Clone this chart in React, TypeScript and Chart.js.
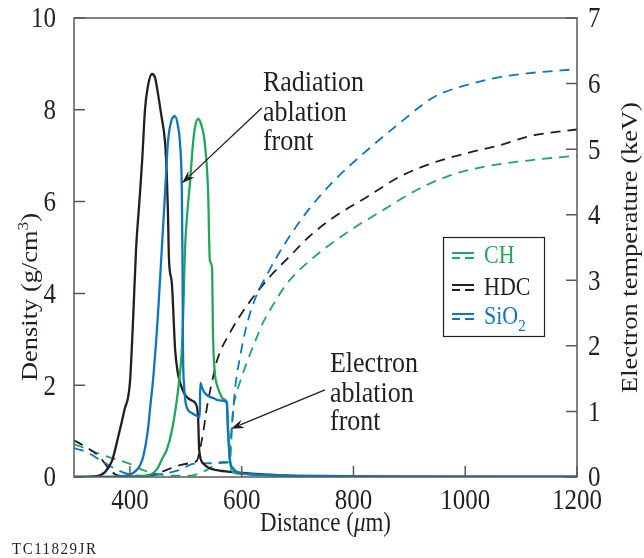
import React, { useEffect, useRef } from 'react';
import { Chart, registerables } from 'chart.js';
Chart.register(...registerables);

// ---------- data ----------
const xTicks = [400, 600, 800, 1000, 1200];
const densityTicks = [0, 2, 4, 6, 8, 10];
const tempTicks = [0, 1, 2, 3, 4, 5, 6, 7];

// density (g/cm^3) vs distance (um)
const hdcDensity: [number, number][] = [
  [300, 0], [340, 0.02], [355, 0.1], [368, 0.35], [379, 0.87], [390, 1.45], [400, 2.05],
  [406, 3.5], [411, 4.95], [417, 6.0], [422, 6.9], [427, 8.0], [432, 8.5], [439.5, 8.78],
  [445, 8.7], [450, 8.37], [456, 7.9], [463, 7.28], [466, 6.6], [468, 5.82], [470, 4.73],
  [475, 4.23], [481, 2.77], [486, 2.25], [490, 2.05], [496, 1.85], [502, 1.74], [510, 1.67],
  [517, 1.61], [522, 1.31], [524, 0.59], [531, 0.3], [541, 0.2], [556, 0.15], [580, 0.11],
  [602, 0.09], [650, 0.05], [704, 0.02], [800, 0.01], [1200, 0],
];
const chDensity: [number, number][] = [
  [300, 0], [400, 0], [436, 0.05], [450, 0.2], [459, 0.43], [466, 0.59], [475, 1.0],
  [484, 1.68], [489, 2.2], [493, 2.77], [496, 3.8], [498.6, 4.95], [503, 5.8], [507.5, 6.41],
  [513, 7.28], [517, 7.65], [522, 7.8], [527, 7.7], [534, 7.28], [540, 6.2], [543, 4.73],
  [547, 4.55], [548.7, 3.12], [552, 2.27], [556, 2.0], [561, 1.83], [567, 1.7], [573.7, 1.63],
  [576, 1.0], [579, 0.37], [584, 0.11], [600, 0.07], [633, 0.04], [800, 0.01], [1200, 0.01],
];
const sio2Density: [number, number][] = [
  [300, 0], [370, 0.01], [400, 0.05], [412, 0.15], [418, 0.25], [424, 0.45], [432, 1.0],
  [437, 1.6], [441, 2.05], [446, 2.8], [450, 3.49], [457, 4.95], [463, 6.2], [468, 7.28],
  [474, 7.75], [480.7, 7.86], [486, 7.65], [489.6, 7.28], [493, 6.2], [494, 4.9], [495, 2.77],
  [497, 2.0], [499, 1.68], [504, 1.46], [510, 1.4], [517, 1.35], [525, 1.3], [526, 2.05],
  [530, 1.92], [534, 1.83], [541, 1.76], [549, 1.72], [560, 1.67], [573, 1.63], [575.5, 1.0],
  [579, 0.37], [584, 0.2], [592, 0.11], [610, 0.07], [633, 0.05], [700, 0.03], [900, 0.01],
  [1200, 0.01],
];

// electron temperature (keV) vs distance (um)
const hdcTemp: [number, number][] = [
  [300, 0.56], [323, 0.45], [346.5, 0.3], [364, 0.11], [377, 0.03], [400, 0.01], [440, 0.03],
  [466, 0.11], [490, 0.18], [507, 0.21], [520, 0.25], [525, 0.41], [531, 0.67], [538, 1.07],
  [549, 1.53], [556, 1.78], [579, 2.2], [610, 2.62], [650, 3.05], [690, 3.4], [720, 3.66],
  [763, 3.95], [824, 4.27], [883, 4.58], [942, 4.79], [1003, 4.94], [1062, 5.06], [1116, 5.2],
  [1200, 5.3],
];
const chTemp: [number, number][] = [
  [300, 0.5], [323, 0.43], [346.5, 0.35], [375, 0.27], [400, 0.2], [425, 0.1], [445, 0.05],
  [480, 0.02], [507, 0.02], [536, 0.1], [565, 0.23], [579, 0.23], [584, 0.98], [590, 1.25],
  [597, 1.45], [609.5, 1.75], [627, 2.13], [638, 2.35], [651, 2.55], [681, 2.95], [722, 3.3],
  [794, 3.76], [853, 4.07], [914, 4.38], [973, 4.6], [1032, 4.73], [1116, 4.83], [1200, 4.9],
];
const sio2Temp: [number, number][] = [
  [300, 0.44], [323, 0.38], [346.5, 0.26], [377, 0.11], [400, 0.04], [430, 0.02], [460, 0.05],
  [490, 0.11], [513, 0.2], [543, 0.21], [575, 0.22], [583, 0.82], [588, 1.33], [597, 1.83],
  [609.5, 2.33], [627, 2.78], [645, 3.08], [663, 3.36], [692, 3.75], [722, 4.1], [763, 4.5],
  [824, 4.98], [883, 5.4], [924, 5.68], [945, 5.8], [960, 5.86], [1003, 5.98], [1062, 6.1],
  [1116, 6.16], [1200, 6.22],
];

const GREEN = '#22a65b';
const BLACK = '#231f20';
const BLUE = '#0e76bf';
const AXIS = '#58595b';
const SERIF = '"Liberation Serif", "Times New Roman", serif';
const S = 1.15; // vertical stretch of the lettering

const toPts = (a: [number, number][]) => a.map(([x, y]) => ({ x, y }));

type Part = { t: string; size: number; dy?: number; italic?: boolean };

// (x, y) = visual centre line of the text
function drawParts(
  ctx: CanvasRenderingContext2D, parts: Part[], x: number, y: number,
  align: 'left' | 'center' | 'right', rot = false, spacing = 0,
) {
  ctx.save();
  (ctx as any).letterSpacing = `${spacing}px`;
  ctx.translate(x, y);
  if (rot) { ctx.rotate(-Math.PI / 2); ctx.scale(S, 1); } else { ctx.scale(1, S); }
  let total = 0;
  const widths = parts.map((p) => {
    ctx.font = `${p.italic ? 'italic ' : ''}${p.size}px ${SERIF}`;
    const w = ctx.measureText(p.t).width;
    total += w;
    return w;
  });
  let cx = align === 'center' ? -total / 2 : align === 'right' ? -total : 0;
  const base = parts[0].size * 0.33;
  ctx.textAlign = 'left';
  ctx.textBaseline = 'alphabetic';
  parts.forEach((p, i) => {
    ctx.font = `${p.italic ? 'italic ' : ''}${p.size}px ${SERIF}`;
    ctx.fillText(p.t, cx, base + (p.dy || 0));
    cx += widths[i];
  });
  ctx.restore();
}

function arrow(ctx: CanvasRenderingContext2D, x0: number, y0: number, x1: number, y1: number) {
  const ang = Math.atan2(y1 - y0, x1 - x0);
  const L = 13;
  const W = 4.5;
  const c = Math.cos(ang);
  const s = Math.sin(ang);
  ctx.beginPath();
  ctx.moveTo(x0, y0);
  ctx.lineTo(x1 - c * (L - 3), y1 - s * (L - 3));
  ctx.stroke();
  ctx.beginPath();
  ctx.moveTo(x1, y1);
  ctx.lineTo(x1 - c * L - s * W, y1 - s * L + c * W);
  ctx.lineTo(x1 - c * (L - 4), y1 - s * (L - 4));
  ctx.lineTo(x1 - c * L + s * W, y1 - s * L - c * W);
  ctx.closePath();
  ctx.fill();
}

const overlay = {
  id: 'overlay',
  afterDraw(chart: any) {
    const ctx: CanvasRenderingContext2D = chart.ctx;
    const { left, right, top, bottom } = chart.chartArea;
    const xs = chart.scales.x;
    const yl = chart.scales.yL;
    const yr = chart.scales.yR;
    ctx.save();
    // frame
    ctx.strokeStyle = AXIS;
    ctx.lineWidth = 1.5;
    ctx.strokeRect(left, top, right - left, bottom - top);
    // inward ticks
    ctx.beginPath();
    densityTicks.forEach((v) => {
      const y = yl.getPixelForValue(v);
      ctx.moveTo(left, y);
      ctx.lineTo(left + 11, y);
    });
    tempTicks.forEach((v) => {
      const y = yr.getPixelForValue(v);
      ctx.moveTo(right, y);
      ctx.lineTo(right - 11, y);
    });
    xTicks.forEach((v) => {
      const x = xs.getPixelForValue(v);
      ctx.moveTo(x, bottom);
      ctx.lineTo(x, bottom - 11);
    });
    ctx.stroke();

    ctx.fillStyle = BLACK;
    // tick labels
    densityTicks.forEach((v) => drawParts(ctx, [{ t: String(v), size: 25 }], left - 18, yl.getPixelForValue(v), 'right'));
    tempTicks.forEach((v) => drawParts(ctx, [{ t: String(v), size: 25 }], right + 11, yr.getPixelForValue(v), 'left'));
    xTicks.forEach((v) => drawParts(ctx, [{ t: String(v), size: 25 }], xs.getPixelForValue(v), bottom + 23, 'center'));

    // axis titles
    drawParts(ctx, [{ t: 'Distance (', size: 23 }, { t: 'μ', size: 23, italic: true }, { t: 'm)', size: 23 }], (left + right) / 2, 522, 'center');
    drawParts(ctx, [{ t: 'Density (g/cm', size: 23 }, { t: '3', size: 15, dy: -9 }, { t: ')', size: 23 }], 29, 297, 'center', true);
    drawParts(ctx, [{ t: 'Electron temperature (keV)', size: 23 }], 629, (top + bottom) / 2, 'center', true);

    // annotations
    const ax = (v: number) => xs.getPixelForValue(v);
    const ay = (v: number) => yl.getPixelForValue(v);
    ctx.strokeStyle = BLACK;
    ctx.lineWidth = 1.3;
    ['Radiation', 'ablation', 'front'].forEach((t, i) => {
      drawParts(ctx, [{ t, size: 26 }], ax(638), ay([8.63, 7.97, 7.34][i]), 'left');
    });
    arrow(ctx, ax(636), ay(8.04), ax(493.2), ay(6.4));
    ['Electron', 'ablation', 'front'].forEach((t, i) => {
      drawParts(ctx, [{ t, size: 26 }], ax(758), ay([2.5, 1.85, 1.24][i]), 'left');
    });
    arrow(ctx, ax(749), ay(1.9), ax(580.9), ay(1.05));

    // legend
    ctx.strokeStyle = BLACK;
    ctx.lineWidth = 1.2;
    ctx.strokeRect(443.5, 237.5, 101, 99);
    const items = [
      { c: GREEN, y: 255, parts: [{ t: 'CH', size: 22 }] as Part[] },
      { c: BLACK, y: 287, parts: [{ t: 'HDC', size: 22 }] as Part[] },
      { c: BLUE, y: 316, parts: [{ t: 'SiO', size: 22 }, { t: '2', size: 15, dy: 6 }] as Part[] },
    ];
    items.forEach((it) => {
      ctx.strokeStyle = it.c;
      ctx.lineWidth = 2;
      ctx.beginPath();
      ctx.moveTo(452, it.y - 2);
      ctx.lineTo(474, it.y - 2);
      ctx.moveTo(452, it.y + 3);
      ctx.lineTo(460, it.y + 3);
      ctx.moveTo(465, it.y + 3);
      ctx.lineTo(474, it.y + 3);
      ctx.stroke();
      ctx.fillStyle = it.c;
      drawParts(ctx, it.parts, 484, it.y, 'left');
    });

    ctx.fillStyle = BLACK;
    drawParts(ctx, [{ t: 'TC11829JR', size: 15 }], 12, 548, 'left', false, 1.5);
    ctx.restore();
  },
};

export default function App() {
  const ref = useRef<HTMLCanvasElement>(null);
  useEffect(() => {
    document.body.style.margin = '0';
    const canvas = ref.current!;
    const solid = (label: string, d: [number, number][], c: string) => ({
      label, data: toPts(d), borderColor: c, borderWidth: 2.3, pointRadius: 0,
      cubicInterpolationMode: 'monotone' as const, yAxisID: 'yL', fill: false,
    });
    const dashed = (label: string, d: [number, number][], c: string) => ({
      label, data: toPts(d), borderColor: c, borderWidth: 1.8, pointRadius: 0,
      borderDash: [10, 7], cubicInterpolationMode: 'monotone' as const, yAxisID: 'yR', fill: false,
    });
    const hidden = { display: false };
    const chart = new Chart(canvas, {
      type: 'line',
      data: {
        datasets: [
          solid('SiO2 density', sio2Density, BLUE),
          solid('CH density', chDensity, GREEN),
          solid('HDC density', hdcDensity, BLACK),
          dashed('SiO2 temperature', sio2Temp, BLUE),
          dashed('HDC temperature', hdcTemp, BLACK),
          dashed('CH temperature', chTemp, GREEN),
        ],
      },
      options: {
        animation: false,
        responsive: false,
        devicePixelRatio: 1,
        layout: { padding: { top: 18, left: 0, right: 0, bottom: 0 } },
        plugins: { legend: { display: false }, tooltip: { enabled: false } },
        scales: {
          x: {
            type: 'linear', min: 300, max: 1200,
            afterBuildTicks: (s: any) => { s.ticks = xTicks.map((v) => ({ value: v })); },
            afterFit: (s: any) => { s.height = 81; },
            grid: { display: false, drawTicks: false },
            border: { display: false },
            ticks: hidden,
          },
          yL: {
            type: 'linear', position: 'left', min: 0, max: 10,
            afterBuildTicks: (s: any) => { s.ticks = densityTicks.map((v) => ({ value: v })); },
            afterFit: (s: any) => { s.width = 74; },
            grid: { display: false, drawTicks: false },
            border: { display: false },
            ticks: hidden,
          },
          yR: {
            type: 'linear', position: 'right', min: 0, max: 7,
            afterBuildTicks: (s: any) => { s.ticks = tempTicks.map((v) => ({ value: v })); },
            afterFit: (s: any) => { s.width = 67; },
            grid: { display: false, drawTicks: false },
            border: { display: false },
            ticks: hidden,
          },
        },
      },
      plugins: [overlay],
    } as any);
    return () => chart.destroy();
  }, []);
  return <canvas ref={ref} width={644} height={558} style={{ display: 'block' }} />;
}
